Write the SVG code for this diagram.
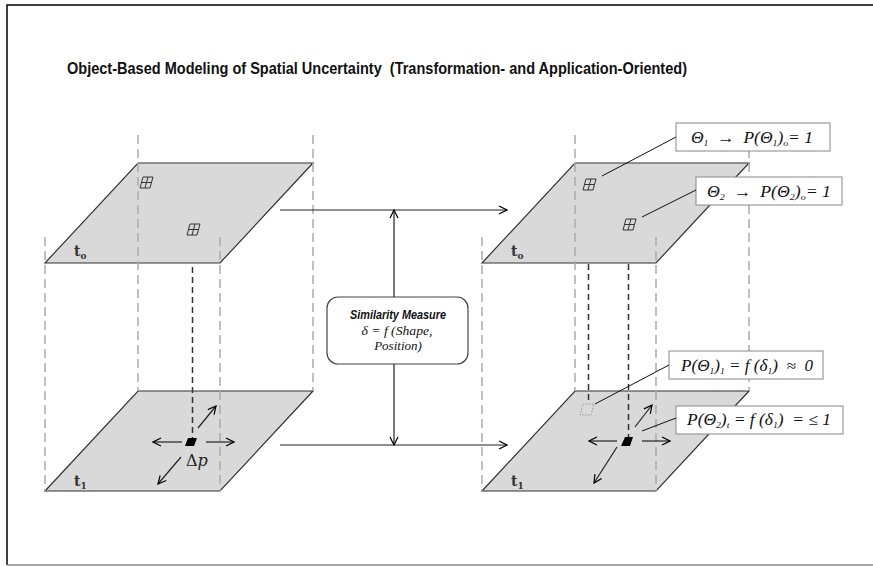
<svg xmlns="http://www.w3.org/2000/svg" width="873" height="566" viewBox="0 0 873 566">
  <defs>
    <marker id="open" viewBox="0 0 10 10" refX="9" refY="5" markerWidth="10" markerHeight="10" markerUnits="userSpaceOnUse" orient="auto">
      <path d="M1,1 L9,5 L1,9" fill="none" stroke="#000" stroke-width="1.2"/>
    </marker>
    <g id="grid">
      <path d="M3,0 H13 L10,11 H0 Z M8,0 L5,11 M1.5,5.5 H11.5" fill="none" stroke="#333" stroke-width="1"/>
    </g>
  </defs>
  <style>
    text { white-space: pre; }
    .plane { fill: #d9d9d9; stroke: #333; stroke-width: 1.2; }
    .guide { stroke: #aaa; stroke-width: 1.5; stroke-dasharray: 9 5; fill: none; }
    .drop { stroke: #333; stroke-width: 1.5; stroke-dasharray: 6 4; fill: none; }
    .conn { stroke: #222; stroke-width: 1.2; fill: none; }
    .lead { stroke: #111; stroke-width: 1; fill: none; }
    .lbl { fill: #fff; stroke: #888; stroke-width: 1; }
    .math { font-family: "Liberation Serif", "DejaVu Serif", serif; font-style: italic; fill: #111; }
    .tl { font-family: "DejaVu Serif", serif; font-weight: bold; font-size: 14px; fill: #333; }
    .sub { font-size: 9px; }
  </style>

  <!-- frame -->
  <path d="M7,565 V5 H873" fill="none" stroke="#000" stroke-width="1.5"/>
  <path d="M7,565 H873" fill="none" stroke="#888" stroke-width="1.5"/>

  <text x="67" y="74" font-family="Liberation Sans, Arial, sans-serif" font-weight="bold" font-size="17" textLength="620" lengthAdjust="spacingAndGlyphs" fill="#111">Object-Based Modeling of Spatial Uncertainty  (Transformation- and Application-Oriented)</text>

  <!-- left stack: t0 above t1 -->
  <g id="left-t0">
    <path class="plane" d="M138,163 H313 L220,263 H45 Z"/>
    <use href="#grid" x="140" y="177"/>
    <use href="#grid" x="187" y="224"/>
    <text class="tl" x="74" y="256">t<tspan class="sub" dy="3">o</tspan></text>
  </g>
  <g id="left-t1">
    <path class="plane" d="M138,391 H313 L220,491 H45 Z"/>
    <text class="tl" x="74" y="486">t<tspan class="sub" dy="3">1</tspan></text>
  </g>
  <g id="left-guides">
    <line class="guide" x1="45" y1="237" x2="45" y2="491"/>
    <line class="guide" x1="220" y1="237" x2="220" y2="491"/>
    <line class="guide" x1="138" y1="135" x2="138" y2="391"/>
    <line class="guide" x1="313" y1="135" x2="313" y2="391"/>
    <line class="drop" x1="192.5" y1="267" x2="192.5" y2="438"/>
  </g>
  <g id="left-object">
    <path d="M188,438 H197 L194,446 H185 Z" fill="#000"/>
    <line class="conn" x1="182" y1="442" x2="153" y2="442" marker-end="url(#open)"/>
    <line class="conn" x1="206" y1="442" x2="234" y2="442" marker-end="url(#open)"/>
    <line class="conn" x1="198" y1="428" x2="216" y2="406" marker-end="url(#open)"/>
    <line class="conn" x1="181" y1="457" x2="158" y2="484" marker-end="url(#open)"/>
    <text x="186" y="466" font-family="DejaVu Serif, serif" font-size="16" fill="#222">Δ<tspan font-style="italic">p</tspan></text>
  </g>

  <!-- right stack: t0 above t1 -->
  <g id="right-t0">
    <path class="plane" d="M575,163 H749 L656,263 H482 Z"/>
    <use href="#grid" x="583" y="179"/>
    <use href="#grid" x="623" y="219"/>
    <text class="tl" x="511" y="256">t<tspan class="sub" dy="3">o</tspan></text>
  </g>
  <g id="right-t1">
    <path class="plane" d="M575,391 H749 L656,491 H482 Z"/>
    <text class="tl" x="511" y="486">t<tspan class="sub" dy="3">1</tspan></text>
  </g>
  <g id="right-guides">
    <line class="guide" x1="482" y1="237" x2="482" y2="491"/>
    <line class="guide" x1="656" y1="237" x2="656" y2="491"/>
    <line class="guide" x1="575" y1="135" x2="575" y2="391"/>
    <line class="guide" x1="749" y1="135" x2="749" y2="391"/>
    <line class="drop" x1="588.5" y1="264" x2="588.5" y2="404"/>
    <line class="drop" x1="628.5" y1="264" x2="628.5" y2="437"/>
  </g>
  <g id="right-objects">
    <path d="M583,404 H594 L591,415 H580 Z" fill="none" stroke="#999" stroke-width="1" stroke-dasharray="1.5 1.5"/>
    <path d="M625,437 H633 L630,446 H621 Z" fill="#000"/>
    <line class="conn" x1="617" y1="441" x2="589" y2="441" marker-end="url(#open)"/>
    <line class="conn" x1="642" y1="441" x2="670" y2="441" marker-end="url(#open)"/>
    <line class="conn" x1="635" y1="427" x2="652" y2="405" marker-end="url(#open)"/>
    <line class="conn" x1="617" y1="447" x2="594" y2="483" marker-end="url(#open)"/>
  </g>

  <!-- similarity measure -->
  <g id="similarity">
    <rect x="327" y="297" width="141" height="67" rx="11" fill="#fff" stroke="#444" stroke-width="1.2"/>
    <text x="398" y="319" text-anchor="middle" font-family="Liberation Sans, Arial, sans-serif" font-weight="bold" font-style="italic" font-size="13" textLength="96" lengthAdjust="spacingAndGlyphs" fill="#111">Similarity Measure</text>
    <text class="math" x="397" y="335" text-anchor="middle" font-size="13" textLength="71" lengthAdjust="spacingAndGlyphs">δ = f (Shape,</text>
    <text class="math" x="398" y="350" text-anchor="middle" font-size="13">Position)</text>
  </g>

  <!-- probability labels -->
  <g id="label-theta1">
    <rect class="lbl" x="676" y="123" width="154" height="28"/>
    <text class="math" x="691" y="143" font-size="16" textLength="122" lengthAdjust="spacingAndGlyphs">Θ<tspan class="sub" dy="3">1</tspan><tspan dy="-3">  →  P(Θ</tspan><tspan class="sub" dy="3">1</tspan><tspan dy="-3">)</tspan><tspan class="sub" dy="3">o</tspan><tspan dy="-3">= 1</tspan></text>
  </g>
  <g id="label-theta2">
    <rect class="lbl" x="696" y="177" width="146" height="28"/>
    <text class="math" x="707" y="197" font-size="16" textLength="124" lengthAdjust="spacingAndGlyphs">Θ<tspan class="sub" dy="3">2</tspan><tspan dy="-3">  →  P(Θ</tspan><tspan class="sub" dy="3">2</tspan><tspan dy="-3">)</tspan><tspan class="sub" dy="3">o</tspan><tspan dy="-3">= 1</tspan></text>
  </g>
  <g id="label-p1">
    <rect class="lbl" x="669" y="351" width="154" height="28"/>
    <text class="math" x="681" y="371" font-size="16" textLength="132" lengthAdjust="spacingAndGlyphs">P(Θ<tspan class="sub" dy="3">1</tspan><tspan dy="-3">)</tspan><tspan class="sub" dy="3">1</tspan><tspan dy="-3"> = f (δ</tspan><tspan class="sub" dy="3">1</tspan><tspan dy="-3">)  ≈  0</tspan></text>
  </g>
  <g id="label-p2">
    <rect class="lbl" x="676" y="406" width="167" height="28"/>
    <text class="math" x="687" y="425" font-size="16" textLength="144" lengthAdjust="spacingAndGlyphs">P(Θ<tspan class="sub" dy="3">2</tspan><tspan dy="-3">)</tspan><tspan class="sub" dy="3">t</tspan><tspan dy="-3"> = f (δ</tspan><tspan class="sub" dy="3">1</tspan><tspan dy="-3">)  = ≤ 1</tspan></text>
  </g>

  <!-- connectors -->
  <g id="connectors">
    <line class="conn" x1="280" y1="210" x2="507" y2="210" marker-end="url(#open)"/>
    <line class="conn" x1="280" y1="445" x2="507" y2="445" marker-end="url(#open)"/>
    <line class="conn" x1="394" y1="297" x2="394" y2="210" marker-end="url(#open)"/>
    <line class="conn" x1="394" y1="364" x2="394" y2="445" marker-end="url(#open)"/>
    <line class="lead" x1="602" y1="176" x2="676" y2="137"/>
    <line class="lead" x1="642" y1="217" x2="696" y2="190"/>
    <line class="lead" x1="595" y1="404" x2="669" y2="365"/>
    <line class="lead" x1="642" y1="431" x2="676" y2="418"/>
  </g>
</svg>
